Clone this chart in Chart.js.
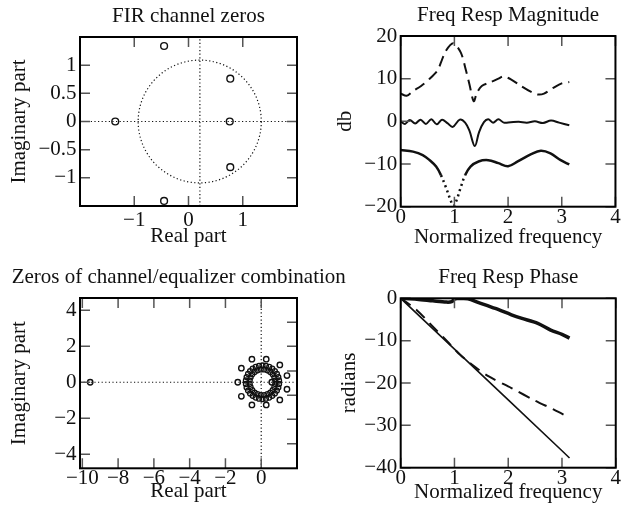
<!DOCTYPE html>
<html>
<head>
<meta charset="utf-8">
<script src="https://cdn.jsdelivr.net/npm/chart.js@4.4.1/dist/chart.umd.min.js"></script>
<style>
    html, body { margin: 0; padding: 0; background: #fff; }
    #wrap { position: relative; width: 621px; height: 511px; }
    #wrap canvas { position: absolute; left: 0; top: 0; }
</style>
</head>
<body>
<div id="wrap">
    <canvas id="chanZeros" width="621" height="511"></canvas>
    <canvas id="magResp" width="621" height="511"></canvas>
    <canvas id="combZeros" width="621" height="511"></canvas>
    <canvas id="phaseResp" width="621" height="511"></canvas>
</div>
<script>
// FIR channel zeros (top left)
const chanZerosRe = [-1.35, 0.76, 0.77, 0.77, -0.45, -0.45];
const chanZerosIm = [0, 0, 0.76, -0.81, 1.34, -1.41];
const chanAxisX = 0.21;
const chanCircle = { cx: 0.207, cy: 0, rx: 1.135, ry: 1.09 };
const chanXTicks = [-1, 0, 1];
const chanYTicks = [-1, -0.5, 0, 0.5, 1];

// channel/equalizer combination zeros (bottom left)
const combOuterRe = [-9.56, -1.31, 0.59, -1.11, -1.11, -0.52, -0.52, 0.28, 0.28, 1.04, 1.04, 1.44, 1.44];
const combOuterIm = [0, 0, 0, 0.78, -0.78, 1.28, -1.26, 1.28, -1.26, 0.96, -0.98, 0.37, -0.39];
const combRingRe = [0.995, 0.955, 0.875, 0.761, 0.617, 0.448, 0.263, 0.07, -0.123, -0.308, -0.477, -0.621, -0.735, -0.815, -0.855,
                    -0.855, -0.815, -0.735, -0.621, -0.477, -0.308, -0.123, 0.07, 0.263, 0.448, 0.617, 0.761, 0.875, 0.955, 0.995];
const combRingIm = [0.097, 0.287, 0.465, 0.622, 0.752, 0.85, 0.91, 0.93, 0.91, 0.85, 0.752, 0.622, 0.465, 0.287, 0.097,
                    -0.097, -0.287, -0.465, -0.622, -0.752, -0.85, -0.91, -0.93, -0.91, -0.85, -0.752, -0.622, -0.465, -0.287, -0.097];
const combInnerRe = [0.784, 0.735, 0.641, 0.508, 0.346, 0.164, -0.024, -0.206, -0.368, -0.501, -0.595, -0.644,
                     -0.644, -0.595, -0.501, -0.368, -0.206, -0.024, 0.164, 0.346, 0.508, 0.641, 0.735, 0.784];
const combInnerIm = [0.094, 0.276, 0.438, 0.571, 0.665, 0.714, 0.714, 0.665, 0.571, 0.438, 0.276, 0.094,
                     -0.094, -0.276, -0.438, -0.571, -0.665, -0.714, -0.714, -0.665, -0.571, -0.438, -0.276, -0.094];
const combXTicks = [-10, -8, -6, -4, -2, 0];
const combYTicks = [-4, -2, 0, 2, 4];
const combRightTicks = [3.33, 2, 0.63, -0.72, -2.06, -3.41];

// magnitude response, dB (top right)
const freqEq = [0, 0.11, 0.23, 0.38, 0.54, 0.69, 0.75, 0.84, 0.98, 1.12, 1.21, 1.28, 1.36, 1.42, 1.51, 1.66, 1.82, 1.91, 2.06, 2.24, 2.43, 2.55, 2.67, 2.85, 3.0, 3.14];
const magEq = [6.5, 6.0, 7.1, 8.3, 10, 12, 13.8, 16.5, 18.3, 16.1, 12.2, 8.7, 4.7, 6.7, 8.3, 9.1, 10, 10.5, 9.8, 8.3, 6.9, 6.3, 6.5, 7.9, 8.9, 9.2];
const freqComb = [0, 0.08, 0.17, 0.27, 0.37, 0.47, 0.57, 0.67, 0.77, 0.87, 0.97, 1.1, 1.2, 1.28, 1.38, 1.46, 1.55, 1.63, 1.72, 1.82, 1.92, 2.05, 2.2, 2.35, 2.5, 2.65, 2.8, 2.95, 3.14];
const magComb = [0, -0.6, 0.3, -0.5, 0.4, -0.6, 0.5, -0.7, 0.4, -0.4, -1.3, 0.4, -0.3, -2.2, -5.8, -2.5, -0.2, 0.5, -0.3, 0.5, -0.3, -0.2, -0.1, -0.3, 0, -0.4, 0.2, -0.3, -0.9];
const freqChan = [0, 0.23, 0.41, 0.54, 0.66, 0.75, 0.84, 0.93, 0.98, 1.04, 1.12, 1.2, 1.3, 1.45, 1.63, 1.82, 2.0, 2.18, 2.43, 2.61, 2.79, 2.98, 3.14];
const magChan = [-6.7, -7.1, -7.9, -9.1, -10.6, -12.6, -15.4, -18.5, -19.8, -18.5, -15.4, -12.6, -10.6, -9.4, -9.1, -9.8, -10.5, -9.4, -7.7, -6.9, -7.5, -9.1, -10.1];
const freqXTicks = [0, 1, 2, 3, 4];
const magYTicks = [-20, -10, 0, 10, 20];

// phase response, radians (bottom right)
const freqLin = [0, 1, 2, 3, 3.14];
const phaseLin = [0, -12, -24, -36, -37.7];
const freqPhEq = [0, 0.3, 0.6, 0.9, 1.1, 1.33, 1.63, 2.06, 2.49, 2.85, 3.14];
const phaseEq = [0, -2.8, -6.7, -10.6, -13.3, -15.7, -18.4, -21.2, -24.1, -26.3, -28.2];
const freqPhComb = [0, 0.3, 0.6, 0.85, 0.95, 1.0, 1.1, 1.25, 1.45, 1.76, 2.06, 2.24, 2.55, 2.79, 3.0, 3.14];
const phaseComb = [0, -0.2, -0.6, -0.9, -0.8, -0.2, 0, -0.1, -1.0, -2.4, -3.9, -4.7, -5.9, -7.5, -8.5, -9.4];
const phaseYTicks = [-40, -30, -20, -10, 0];

Chart.defaults.font.family = '"Liberation Serif", "Times New Roman", serif';
Chart.defaults.font.size = 21;
Chart.defaults.color = '#111';

const pts = (xs, ys) => xs.map((x, i) => ({ x, y: ys[i] }));
const fmt = v => String(v).replace('-', '\u2212');

// box round the plot plus inward tick marks on all four sides
const framePlugin = {
    id: 'frame',
    afterDatasetsDraw(chart, args, opts) {
        const { ctx, chartArea: a, scales: { x, y } } = chart;
        ctx.save();
        ctx.strokeStyle = '#555';
        ctx.lineWidth = 1.5;
        ctx.beginPath();
        (opts.xTicks || []).forEach(v => {
            const px = x.getPixelForValue(v);
            ctx.moveTo(px, a.bottom); ctx.lineTo(px, a.bottom - 10);
            ctx.moveTo(px, a.top); ctx.lineTo(px, a.top + 10);
        });
        (opts.leftTicks || []).forEach(v => {
            const py = y.getPixelForValue(v);
            ctx.moveTo(a.left, py); ctx.lineTo(a.left + 10, py);
        });
        (opts.rightTicks || []).forEach(v => {
            const py = y.getPixelForValue(v);
            ctx.moveTo(a.right, py); ctx.lineTo(a.right - 10, py);
        });
        ctx.stroke();
        ctx.strokeStyle = '#000';
        ctx.lineWidth = 2;
        ctx.strokeRect(a.left, a.top, a.width, a.height);
        ctx.restore();
    }
};

// dotted unit circle of the pole-zero plot
const circlePlugin = {
    id: 'zcircle',
    beforeDatasetsDraw(chart, args, opts) {
        if (!opts.circle) return;
        const { ctx, scales: { x, y } } = chart;
        const c = opts.circle;
        const cx = x.getPixelForValue(c.cx), cy = y.getPixelForValue(c.cy);
        const rx = x.getPixelForValue(c.cx + c.rx) - cx;
        const ry = cy - y.getPixelForValue(c.cy + c.ry);
        ctx.save();
        ctx.strokeStyle = '#111';
        ctx.lineWidth = 1.2;
        ctx.setLineDash([1.2, 2.4]);
        ctx.beginPath();
        ctx.ellipse(cx, cy, rx, ry, 0, 0, Math.PI * 2);
        ctx.stroke();
        ctx.restore();
    }
};

function axes(o) {
    const s = {
        x: {
            type: 'linear', min: o.xMin, max: o.xMax,
            grid: { display: false, drawTicks: false }, border: { display: false },
            afterBuildTicks: s => { s.ticks = o.xTicks.map(v => ({ value: v })); },
            afterFit: s => { s.height = o.xH; },
            ticks: { padding: o.xPad, autoSkip: false, maxRotation: 0, font: { lineHeight: 1 }, callback: fmt },
            title: { display: true, text: o.xTitle, padding: 0, font: { lineHeight: 1.2 } }
        },
        y: {
            type: 'linear', min: o.yMin, max: o.yMax,
            grid: { display: false, drawTicks: false }, border: { display: false },
            afterBuildTicks: s => { s.ticks = o.yTicks.map(v => ({ value: v })); },
            afterFit: s => { s.width = o.yW; },
            ticks: { padding: 3.5, autoSkip: false, font: { lineHeight: 1 }, callback: fmt },
            title: { display: true, text: o.yTitle, padding: 0, font: { lineHeight: o.yTitleLH || 1.2 } }
        }
    };
    // empty spacer on the right, lets a wide title run past the plot
    if (o.spacer) {
        s.y2 = {
            type: 'linear', position: 'right',
            grid: { display: false, drawTicks: false }, border: { display: false },
            ticks: { display: false },
            afterFit: sc => { sc.width = o.spacer; }
        };
    }
    return s;
}

function base(o) {
    return {
        responsive: false,
        animation: false,
        devicePixelRatio: 1,
        layout: { padding: o.pad },
        scales: axes(o),
        plugins: {
            legend: { display: false },
            tooltip: { enabled: false },
            title: {
                display: true, text: o.title, fullSize: !!o.spacer, align: o.spacer ? 'start' : 'center',
                font: { size: 21, weight: 'normal', lineHeight: 1.2 },
                padding: { top: 0, bottom: o.titleGap }
            },
            frame: o.frame,
            zcircle: { circle: o.circle }
        }
    };
}

const dotted = { borderColor: '#111', borderWidth: 1.2, borderDash: [1.2, 2.4], pointRadius: 0, showLine: true, fill: false };
const zeroMark = { borderColor: '#111', backgroundColor: 'rgba(0,0,0,0)', pointStyle: 'circle', borderWidth: 1.4, showLine: false };

new Chart(document.getElementById('chanZeros'), {
    type: 'scatter',
    data: {
        datasets: [
            { ...dotted, data: [{ x: -2, y: 0 }, { x: 2, y: 0 }] },
            { ...dotted, data: [{ x: chanAxisX, y: -1.5 }, { x: chanAxisX, y: 1.5 }] },
            { ...zeroMark, pointRadius: 3.4, data: pts(chanZerosRe, chanZerosIm) }
        ]
    },
    options: base({
        title: 'FIR channel zeros', titleGap: 7.9,
        pad: { left: 6.4, right: 324, top: 3.9, bottom: 261.7 },
        xMin: -2, xMax: 2, yMin: -1.5, yMax: 1.5,
        xTicks: chanXTicks, yTicks: chanYTicks, xH: 43.3, yW: 73.6, xPad: 3.5,
        xTitle: 'Real part', yTitle: 'Imaginary part',
        frame: { xTicks: chanXTicks, leftTicks: chanYTicks, rightTicks: chanYTicks },
        circle: chanCircle
    }),
    plugins: [framePlugin, circlePlugin]
});

new Chart(document.getElementById('combZeros'), {
    type: 'scatter',
    data: {
        datasets: [
            { ...dotted, data: [{ x: -10.13, y: 0 }, { x: 2, y: 0 }] },
            { ...dotted, data: [{ x: 0, y: -4.78 }, { x: 0, y: 4.68 }] },
            { ...zeroMark, pointRadius: 2.7, data: pts(combOuterRe, combOuterIm) },
            { ...zeroMark, pointRadius: 2.5, borderWidth: 1.3, data: pts(combRingRe, combRingIm) },
            { ...zeroMark, pointRadius: 2.5, borderWidth: 1.3, data: pts(combInnerRe, combInnerIm) }
        ]
    },
    options: base({
        title: 'Zeros of channel/equalizer combination', titleGap: 7.7,
        pad: { left: 11.7, right: 0, top: 265.1, bottom: 6.7 },
        xMin: -10.13, xMax: 2, yMin: -4.78, yMax: 4.68,
        xTicks: combXTicks, yTicks: combYTicks, xH: 36, yW: 68.3, xPad: 0, yTitleLH: 0.7, spacer: 324,
        xTitle: 'Real part', yTitle: 'Imaginary part',
        frame: { xTicks: combXTicks, leftTicks: combYTicks, rightTicks: combRightTicks }
    }),
    plugins: [framePlugin, circlePlugin]
});

new Chart(document.getElementById('magResp'), {
    type: 'line',
    data: {
        datasets: [
            { data: pts(freqEq, magEq), borderColor: '#111', borderWidth: 2, borderDash: [11, 6], tension: 0.3, pointRadius: 0, fill: false },
            { data: pts(freqComb, magComb), borderColor: '#111', borderWidth: 2, tension: 0.35, pointRadius: 0, fill: false },
            {
                data: pts(freqChan, magChan), borderColor: '#111', borderWidth: 2.5, tension: 0.35, pointRadius: 0, fill: false,
                segment: { borderDash: c => (c.p0.parsed.x >= 0.74 && c.p1.parsed.x <= 1.21 ? [2, 3.5] : undefined) }
            }
        ]
    },
    options: base({
        title: 'Freq Resp Magnitude', titleGap: 7.9,
        pad: { left: 332.9, right: 4.3, top: 2.9, bottom: 260.9 },
        xMin: 0, xMax: 4, yMin: -20, yMax: 20,
        xTicks: freqXTicks, yTicks: magYTicks, xH: 43.4, yW: 67.8, xPad: 0.3,
        xTitle: 'Normalized frequency', yTitle: 'db',
        frame: { xTicks: freqXTicks, leftTicks: magYTicks, rightTicks: magYTicks }
    }),
    plugins: [framePlugin]
});

new Chart(document.getElementById('phaseResp'), {
    type: 'line',
    data: {
        datasets: [
            { data: pts(freqLin, phaseLin), borderColor: '#111', borderWidth: 1.6, tension: 0, pointRadius: 0, fill: false },
            { data: pts(freqPhEq, phaseEq), borderColor: '#111', borderWidth: 2, borderDash: [12, 7], tension: 0.3, pointRadius: 0, fill: false },
            { data: pts(freqPhComb, phaseComb), borderColor: '#111', borderWidth: 3.5, tension: 0.3, pointRadius: 0, fill: false }
        ]
    },
    options: base({
        title: 'Freq Resp Phase', titleGap: 8.7,
        pad: { left: 336.4, right: 4.3, top: 264.4, bottom: 6.4 },
        xMin: 0, xMax: 4, yMin: -40, yMax: 0,
        xTicks: freqXTicks, yTicks: phaseYTicks, xH: 36.9, yW: 64.3, xPad: 0,
        xTitle: 'Normalized frequency', yTitle: 'radians',
        frame: { xTicks: freqXTicks, leftTicks: phaseYTicks, rightTicks: phaseYTicks }
    }),
    plugins: [framePlugin]
});
</script>
</body>
</html>
